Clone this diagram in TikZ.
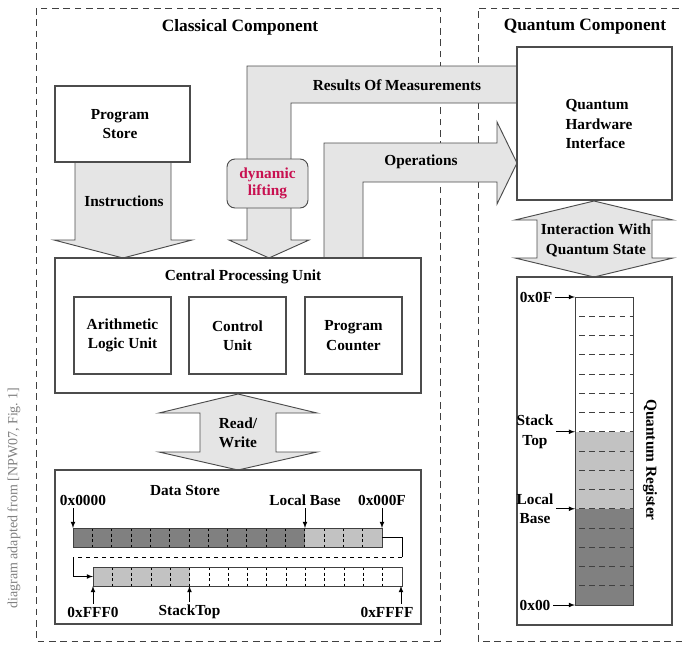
\documentclass[tikz,border=0pt]{standalone}
\usepackage{fontspec}
\setmainfont{Liberation Serif}
\usetikzlibrary{positioning}
\definecolor{arrowfill}{gray}{0.90}
\definecolor{darkcell}{gray}{0.50}
\definecolor{lightcell}{gray}{0.76}
\definecolor{liftred}{RGB}{200,16,80}
\tikzset{
  frame/.style={draw=black!75, line width=0.6pt, dash pattern=on 5pt off 3.5pt},
  box/.style={draw=black!70, line width=0.8pt, fill=white},
  blockarrow/.style={draw=black!70, line width=0.7pt, fill=arrowfill, line join=miter},
  cellframe/.style={draw=black!75, line width=0.7pt},
  sep/.style={draw=black, line width=0.5pt, dash pattern=on 2.2pt off 2pt},
  regsep/.style={draw=black!75, line width=0.6pt, dash pattern=on 4.2pt off 3.4pt},
  ptr/.style={-latex, line width=0.6pt, shorten <=2pt},
  head/.style={font=\bfseries\fontsize{13}{15}\selectfont, inner sep=0pt},
  lbl/.style={font=\bfseries\fontsize{11.5}{14.5}\selectfont, align=center, inner sep=0pt},
  note/.style={font=\fontsize{10.5}{12}\selectfont, text=black!50, inner sep=0pt},
  liftbox/.style={draw=black!70, line width=0.7pt, fill=arrowfill, rounded corners=6pt,
    minimum width=60.75pt, minimum height=36.75pt, align=center, text=liftred,
    font=\bfseries\fontsize{11.5}{13}\selectfont},
}

\begin{document}
\begin{tikzpicture}[x=0.75pt,y=-0.75pt]
\useasboundingbox (0,0) rectangle (683,644);

% the two dashed components
\draw[frame] (36,8) rectangle (440,641);
\draw[frame] (690,8) -- (478,8) -- (478,641) -- (690,641);
\node[head] (classical) at (240,27) {Classical Component};
\node[head] (quantum) at (585,27) {Quantum Component};
\node[note, rotate=90] (source) at (14,498) {diagram adapted from [NPW07, Fig.~1]};

% block arrows
\draw[blockarrow] (517,66) -- (247,66) -- (247,240) -- (229,240) -- (269,258) -- (309,240)
  -- (291,240) -- (291,103) -- (517,103);
\draw[blockarrow] (324,258) -- (324,143) -- (497,143) -- (497,122) -- (517,163) -- (497,204)
  -- (497,182) -- (363,182) -- (363,258);
\draw[blockarrow] (75,162) -- (75,240) -- (54,240) -- (123,258) -- (192,240) -- (171,240) -- (171,162);
\draw[blockarrow] (238,394) -- (317,413) -- (276,413) -- (276,452) -- (317,452) -- (238,470)
  -- (159,452) -- (200,452) -- (200,413) -- (159,413) -- cycle;
\draw[blockarrow] (594,201) -- (673,220) -- (652,220) -- (652,258) -- (673,258) -- (594,277)
  -- (515,258) -- (537,258) -- (537,220) -- (515,220) -- cycle;
\node[lbl] (results) at (397,85) {Results Of Measurements};
\node[lbl] (operations) at (421,162) {Operations};
\node[lbl] (instructions) at (124,201) {Instructions};
\node[lbl] (readwrite) at (238,433) {Read/\\Write};
\node[lbl] (interaction) at (596,240.5) {Interaction With\\Quantum State};
\node[liftbox] (lift) at (267.5,183.5) {dynamic\\lifting};

% boxes
\draw[box] (55,86) rectangle (190,162);
\node[lbl] (progstore) at (120,124) {Program\\Store};
\draw[box] (517,47) rectangle (672,200);
\node[lbl, align=left] (qhi) at (599,124) {Quantum\\Hardware\\Interface};
\draw[box] (55,258) rectangle (421,393);
\node[lbl] (cpu) at (243,277) {Central Processing Unit};
\draw[box] (74,297) rectangle (171,374);
\node[lbl] (alu) at (122.5,335.5) {Arithmetic\\Logic Unit};
\draw[box] (189,297) rectangle (286,374);
\node[lbl] (control) at (237.5,335.5) {Control\\Unit};
\draw[box] (305,297) rectangle (402,374);
\node[lbl] (counter) at (353.5,335.5) {Program\\Counter};

% data store
\draw[box] (55,470) rectangle (421,624);
\node[lbl] (datastore) at (185,490) {Data Store};
\fill[darkcell] (73,528) rectangle (305,547);
\fill[lightcell] (305,528) rectangle (382,547);
\foreach \i in {1,...,15}
  \draw[sep] ({73+19.3125*\i},528) -- ++(0,19);
\draw[cellframe] (73,528) rectangle (382,547);
\fill[lightcell] (93,567) rectangle (189.5,586);
\foreach \i in {1,...,15}
  \draw[sep] ({93+19.3125*\i},567) -- ++(0,19);
\draw[cellframe] (93,567) rectangle (402,586);
\coordinate (toprowend) at (382,537.5);
\coordinate (botrowstart) at (93,576.5);
\draw[line width=0.6pt] (toprowend) -- ++(20,0) -- ++(0,19.5) coordinate (wrapR);
\draw[line width=0.6pt, dashed] (wrapR) -- ++(-329,0) coordinate (wrapL);
\draw[ptr, shorten <=0pt] (wrapL) |- (botrowstart);

\node[lbl] (addr0) at (83,500) {0x0000};
\coordinate (addr0c) at (73,528);
\draw[ptr] (addr0.south -| addr0c) -- (addr0c);
\node[lbl] (localbase) at (305,500) {Local Base};
\coordinate (localbasec) at (305,528);
\draw[ptr] (localbase) -- (localbasec);
\node[lbl] (addrF) at (382,500) {0x000F};
\coordinate (addrFc) at (382,528);
\draw[ptr] (addrF) -- (addrFc);
\node[lbl] (addrFFF0) at (93,612) {0xFFF0};
\coordinate (addrFFF0c) at (93,586);
\draw[ptr] (addrFFF0) -- (addrFFF0c);
\node[lbl] (stacktop) at (189.5,612) {StackTop};
\coordinate (stacktopc) at (189.5,586);
\draw[ptr] (stacktop) -- (stacktopc);
\node[lbl] (addrFFFF) at (387,612) {0xFFFF};
\coordinate (addrFFFFc) at (401,586);
\draw[ptr] (addrFFFF.north -| addrFFFFc) -- (addrFFFFc);

% quantum register
\draw[box] (517,277) rectangle (672,625);
\fill[lightcell] (575,431.75) rectangle (633,508.75);
\fill[darkcell] (575,508.75) rectangle (633,605);
\foreach \i in {1,...,15}
  \draw[regsep] (579,{297+19.25*\i}) -- (633,{297+19.25*\i});
\draw[cellframe] (575,297) rectangle (633,605);
\node[lbl, rotate=-90] (qreg) at (650,460) {Quantum Register};

\node[lbl] (qtop) at (536,297) {0x0F};
\coordinate (qtopc) at (575,297);
\draw[ptr] (qtop) -- (qtopc);
\node[lbl] (qstack) at (535,431.75) {Stack\\Top};
\coordinate (qstackc) at (575,431.75);
\draw[ptr] (qstack) -- (qstackc);
\node[lbl] (qbase) at (535,508.75) {Local\\Base};
\coordinate (qbasec) at (575,508.75);
\draw[ptr] (qbase) -- (qbasec);
\node[lbl] (qbot) at (535,605) {0x00};
\coordinate (qbotc) at (575,605);
\draw[ptr] (qbot) -- (qbotc);
\end{tikzpicture}
\end{document}
